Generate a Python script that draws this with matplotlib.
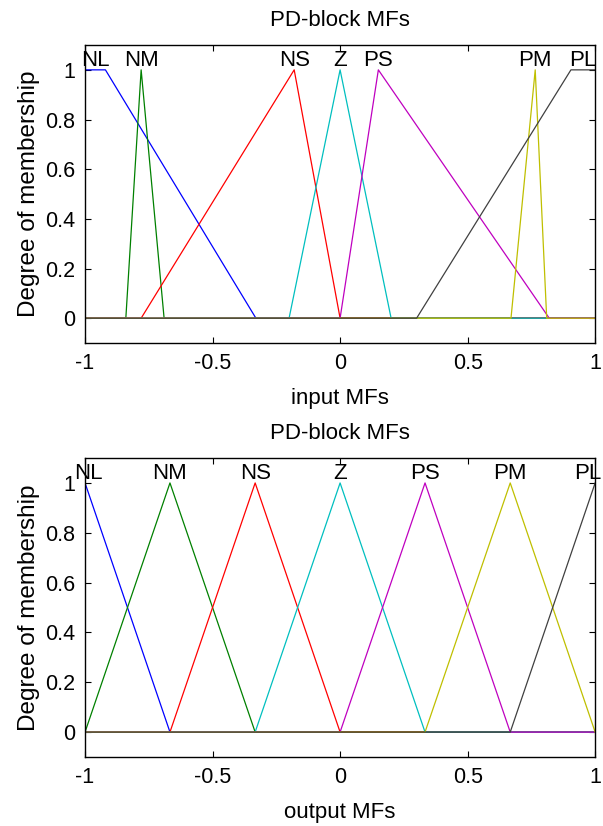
import numpy as np
import matplotlib
matplotlib.use("Agg")
import matplotlib.pyplot as plt

plt.rcParams['font.family'] = ['Liberation Sans', 'DejaVu Sans']

mf_names = ["NL", "NM", "NS", "Z", "PS", "PM", "PL"]
mf_colors = ["#0000ff", "#008000", "#ff0000", "#00bfbf", "#bf00bf", "#bfbf00", "#404040"]

# input MFs: (a, b, c, d) trapezoid parameters (triangle when b == c)
input_params = [
    [-1.40, -1.00, -0.92, -0.33],
    [-0.84, -0.78, -0.78, -0.69],
    [-0.78, -0.18, -0.18, 0.00],
    [-0.20, 0.00, 0.00, 0.20],
    [0.00, 0.15, 0.15, 0.82],
    [0.67, 0.765, 0.765, 0.81],
    [0.30, 0.905, 1.00, 1.40],
]

# output MFs: triangles
output_params = [
    [-1.333, -1.000, -1.000, -0.667],
    [-1.000, -0.667, -0.667, -0.333],
    [-0.667, -0.333, -0.333, 0.000],
    [-0.333, 0.000, 0.000, 0.333],
    [0.000, 0.333, 0.333, 0.667],
    [0.333, 0.667, 0.667, 1.000],
    [0.667, 1.000, 1.000, 1.333],
]

x_ticks = [-1, -0.5, 0, 0.5, 1]
x_ticklabels = ["-1", "-0.5", "0", "0.5", "1"]
y_ticks = [0, 0.2, 0.4, 0.6, 0.8, 1]
y_ticklabels = ["0", "0.2", "0.4", "0.6", "0.8", "1"]


def trapmf(x, p):
    a, b, c, d = p
    y = np.zeros_like(x)
    up = (x >= a) & (x < b)
    if b > a:
        y[up] = (x[up] - a) / (b - a)
    y[(x >= b) & (x <= c)] = 1.0
    dn = (x > c) & (x <= d)
    if d > c:
        y[dn] = (d - x[dn]) / (d - c)
    return y


FS = 16
TFS = 15.5
fig = plt.figure(figsize=(6.03, 8.26), dpi=100)
ax1 = fig.add_axes([0.141, 0.5847, 0.846, 0.3608])
ax2 = fig.add_axes([0.141, 0.0835, 0.846, 0.3620])

x = np.linspace(-1, 1, 2001)
for ax, params, xl in [(ax1, input_params, "input MFs"), (ax2, output_params, "output MFs")]:
    for name, col, p in zip(mf_names, mf_colors, params):
        y = trapmf(x, p)
        ax.plot(x, y, color=col, lw=0.9)
        b, c = p[1], p[2]
        xc = (max(b, -1) + min(c, 1)) / 2
        xc = min(max(xc, -0.985), 0.972)
        ax.text(xc, 1.015, name, ha="center", va="baseline", fontsize=FS, clip_on=False)
    ax.set_xlim(-1, 1)
    ax.set_ylim(-0.1, 1.1)
    ax.set_xticks(x_ticks)
    ax.set_xticklabels(x_ticklabels)
    ax.set_yticks(y_ticks)
    ax.set_yticklabels(y_ticklabels)
    ax.tick_params(direction="in", length=4, width=0.8, top=True, right=True,
                   labelsize=TFS, pad=7)
    for s in ax.spines.values():
        s.set_linewidth(1.0)
    ax.set_xlabel(xl, fontsize=FS, labelpad=10)
    ax.set_ylabel("Degree of membership", fontsize=17.5, labelpad=4)
    ax.set_title("PD-block MFs", fontsize=FS, pad=14)

fig.savefig("out.png", dpi=100)
